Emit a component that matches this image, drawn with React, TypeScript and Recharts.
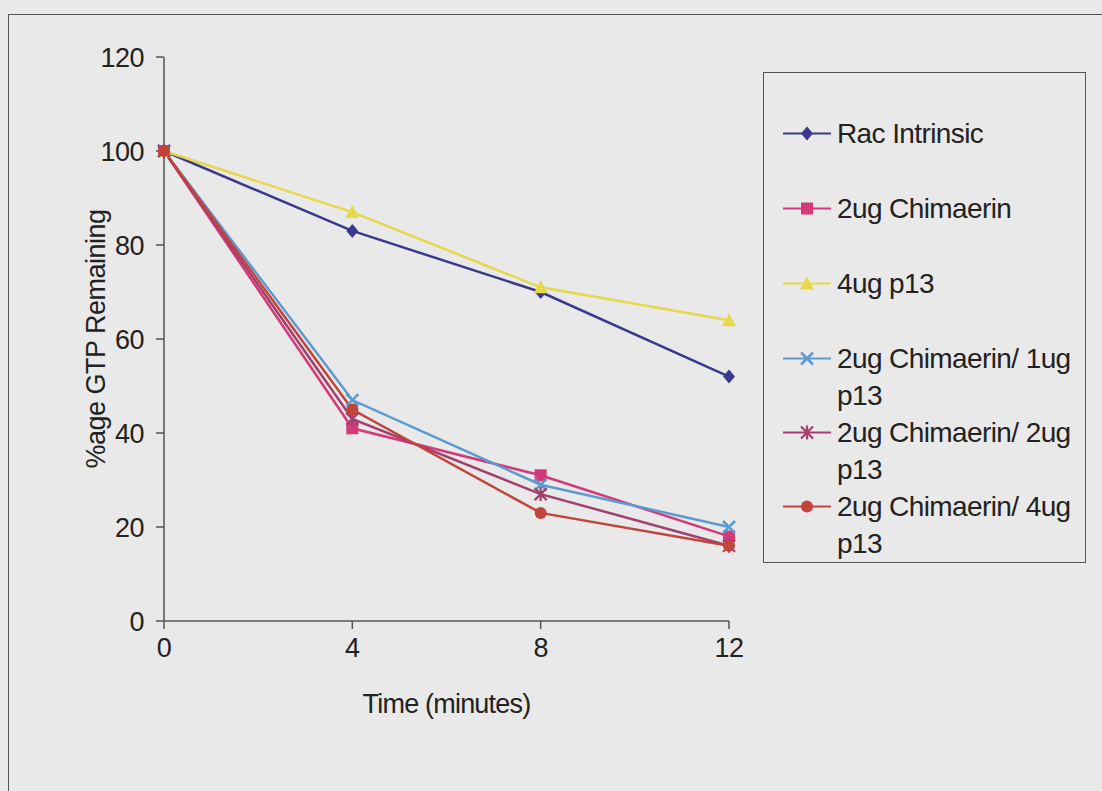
import { Legend, Line, LineChart, XAxis, YAxis } from "recharts";

const times = [0, 4, 8, 12];
const racIntrinsic = [100, 83, 70, 52];
const chimaerin2 = [100, 41, 31, 18];
const p13Only4 = [100, 87, 71, 64];
const chimP13_1 = [100, 47, 29, 20];
const chimP13_2 = [100, 43, 27, 16];
const chimP13_4 = [100, 45, 23, 16];
const xTicks = [0, 4, 8, 12];
const yTicks = [0, 20, 40, 60, 80, 100, 120];

const series = [
  { key: "rac", label: ["Rac Intrinsic"], values: racIntrinsic, color: "#3a3a8c", shape: "diamond" },
  { key: "chim", label: ["2ug Chimaerin"], values: chimaerin2, color: "#d43a78", shape: "square" },
  { key: "p13", label: ["4ug p13"], values: p13Only4, color: "#e6d84a", shape: "triangle" },
  { key: "cp1", label: ["2ug Chimaerin/ 1ug", "p13"], values: chimP13_1, color: "#5b9bd0", shape: "x" },
  { key: "cp2", label: ["2ug Chimaerin/ 2ug", "p13"], values: chimP13_2, color: "#a3406e", shape: "star" },
  { key: "cp4", label: ["2ug Chimaerin/ 4ug", "p13"], values: chimP13_4, color: "#c2443a", shape: "circle" },
];

const data = times.map((t, i) => {
  const row: Record<string, number> = { time: t };
  series.forEach((s) => (row[s.key] = s.values[i]));
  return row;
});

const font = '"Liberation Sans", Arial, sans-serif';
const ink = "#222";
const axisColor = "#555";

function Marker({ shape, cx, cy, color }: { shape: string; cx: number; cy: number; color: string }) {
  const r = 6;
  switch (shape) {
    case "diamond":
      return <polygon points={`${cx},${cy - r - 1} ${cx + r},${cy} ${cx},${cy + r + 1} ${cx - r},${cy}`} fill={color} />;
    case "square":
      return <rect x={cx - r} y={cy - r} width={r * 2} height={r * 2} fill={color} />;
    case "triangle":
      return <polygon points={`${cx},${cy - r - 1} ${cx + r + 1},${cy + r} ${cx - r - 1},${cy + r}`} fill={color} />;
    case "x":
      return (
        <path d={`M${cx - r},${cy - r}L${cx + r},${cy + r}M${cx - r},${cy + r}L${cx + r},${cy - r}`} stroke={color} strokeWidth={2.5} fill="none" />
      );
    case "star":
      return (
        <path
          d={`M${cx - r},${cy - r}L${cx + r},${cy + r}M${cx - r},${cy + r}L${cx + r},${cy - r}M${cx},${cy - r - 1}L${cx},${cy + r + 1}`}
          stroke={color}
          strokeWidth={2.2}
          fill="none"
        />
      );
    default:
      return <circle cx={cx} cy={cy} r={r} fill={color} />;
  }
}

function LegendBox({ payload }: any) {
  const shown = new Set((payload || []).map((e: any) => e.dataKey));
  return (
    <div
      style={{
        boxSizing: "border-box",
        width: 323,
        height: 491,
        border: `1.5px solid ${axisColor}`,
        paddingTop: 42,
        paddingLeft: 19,
        fontFamily: font,
        fontSize: 28,
        letterSpacing: -0.6,
        color: ink,
        textAlign: "left",
      }}
    >
      {series
        .filter((s) => shown.has(s.key))
        .map((s) => (
          <div key={s.key} style={{ display: "flex", alignItems: "flex-start", marginBottom: s.label.length > 1 ? 0 : 38 }}>
            <svg width={48} height={37} style={{ flex: "none", marginRight: 6 }}>
              <line x1={0} y1={18.5} x2={48} y2={18.5} stroke={s.color} strokeWidth={2} />
              <Marker shape={s.shape} cx={24} cy={18.5} color={s.color} />
            </svg>
            <div style={{ lineHeight: "37px", whiteSpace: "nowrap" }}>
              {s.label.map((l) => (
                <div key={l}>{l}</div>
              ))}
            </div>
          </div>
        ))}
    </div>
  );
}

export default function App() {
  const tickStyle = { fill: ink, fontSize: 27, fontFamily: font, letterSpacing: -0.5 };
  return (
    <div style={{ position: "absolute", left: 0, top: 0, width: 1102, height: 791, background: "#e9e9e9", overflow: "hidden" }}>
      <div
        style={{
          position: "absolute",
          left: 8,
          top: 14,
          width: 1200,
          height: 900,
          borderTop: `1.5px solid ${axisColor}`,
          borderLeft: `1.5px solid ${axisColor}`,
        }}
      />
      <LineChart width={1102} height={791} data={data} margin={{ top: 57, right: 373, bottom: 60, left: 0 }}>
        <XAxis
          dataKey="time"
          type="number"
          domain={[0, 12]}
          ticks={xTicks}
          height={110}
          tickSize={8}
          tickMargin={9}
          tick={tickStyle}
          stroke={axisColor}
          strokeWidth={1.5}
          label={{ value: "Time (minutes)", position: "insideBottom", offset: 18, style: { fill: ink, fontSize: 27, fontFamily: font, letterSpacing: -0.8 } }}
        />
        <YAxis
          type="number"
          domain={[0, 120]}
          ticks={yTicks}
          width={164}
          tickSize={8}
          tickMargin={12}
          tick={tickStyle}
          stroke={axisColor}
          strokeWidth={1.5}
          label={{ value: "%age GTP Remaining", angle: -90, position: "center", dx: 13, style: { fill: ink, fontSize: 27, fontFamily: font, letterSpacing: -0.5 } }}
        />
        <Legend
          layout="horizontal"
          align="center"
          verticalAlign="middle"
          content={<LegendBox />}
          wrapperStyle={{ left: 763, top: 72, width: 323, height: 491 }}
        />
        {series.map((s) => (
          <Line
            key={s.key}
            dataKey={s.key}
            name={s.label.join(" ")}
            stroke={s.color}
            strokeWidth={2.5}
            isAnimationActive={false}
            activeDot={false}
            dot={(p: any) => <Marker key={`${s.key}-${p.index}`} shape={s.shape} cx={p.cx} cy={p.cy} color={s.color} />}
          />
        ))}
      </LineChart>
    </div>
  );
}
